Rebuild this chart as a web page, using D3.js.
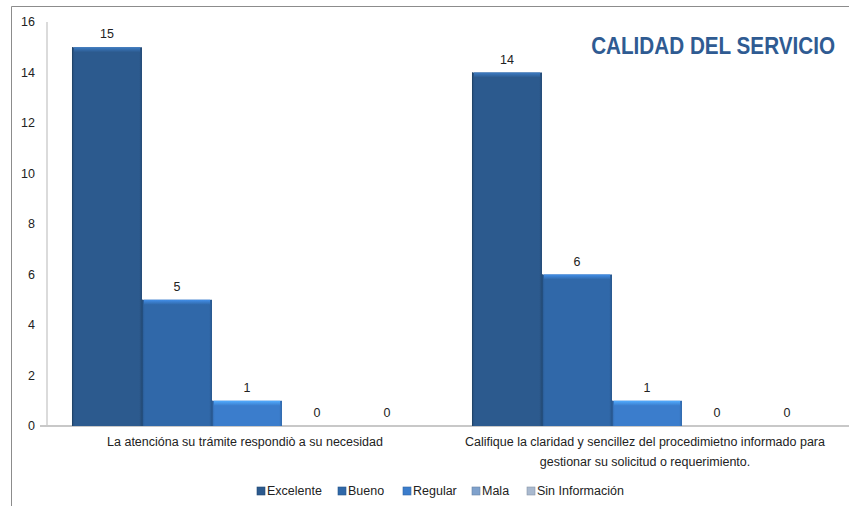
<!DOCTYPE html>
<html>
<head>
<meta charset="utf-8">
<script src="https://cdn.jsdelivr.net/npm/d3@7"></script>
<style>
  body { margin: 0; background: #fff; }
  svg { display: block; font-family: "Liberation Sans", Arial, sans-serif; }
</style>
</head>
<body>
<svg id="chart" width="849" height="506"></svg>
<script>
// chart data
const categories = [
    'La atencióna su trámite respondiò a su necesidad',
    'Califique la claridad y sencillez del procedimietno informado para|gestionar su solicitud o requerimiento.'
];
const seriesNames = ['Excelente', 'Bueno', 'Regular', 'Mala', 'Sin Información'];
const excelente = [15, 14];
const bueno = [5, 6];
const regular = [1, 1];
const mala = [0, 0];
const sinInformacion = [0, 0];
const yTicks = [0, 2, 4, 6, 8, 10, 12, 14, 16];

const seriesValues = [excelente, bueno, regular, mala, sinInformacion];
const colors = ['#2c5a8e', '#3068a9', '#3b7dcc', '#7fa1cc', '#a9b9cf'];

const svg = d3.select('#chart');

// outer frame (left + top only visible)
svg.append('path')
    .attr('d', 'M11.5,506 L11.5,6.5 L849,6.5')
    .attr('fill', 'none')
    .attr('stroke', '#8c8c8c');

const x0 = d3.scaleBand()
    .domain(categories)
    .range([47, 847])
    .padding(0);

const x1 = d3.scaleBand()
    .domain(seriesNames)
    .range([0, x0.bandwidth()])
    .paddingInner(0)
    .paddingOuter(0.357);

const y = d3.scaleLinear()
    .domain([0, 16])
    .range([426, 22]);

// gradients for bevelled bars
const defs = svg.append('defs');
colors.forEach((c, i) => {
    const g = defs.append('linearGradient')
        .attr('id', 'grad' + i)
        .attr('x1', 0).attr('x2', 1).attr('y1', 0).attr('y2', 0);
    const dark = d3.color(c).darker(0.5);
    g.append('stop').attr('offset', '0%').attr('stop-color', dark);
    g.append('stop').attr('offset', '4%').attr('stop-color', c);
    g.append('stop').attr('offset', '96%').attr('stop-color', c);
    g.append('stop').attr('offset', '100%').attr('stop-color', dark);

    const t = defs.append('linearGradient')
        .attr('id', 'top' + i)
        .attr('x1', 0).attr('x2', 0).attr('y1', 0).attr('y2', 1);
    t.append('stop').attr('offset', '0%').attr('stop-color', d3.color(c).brighter(0.9));
    t.append('stop').attr('offset', '100%').attr('stop-color', c);
});

// axes lines
svg.append('line')
    .attr('x1', 47).attr('x2', 47)
    .attr('y1', y(16)).attr('y2', y(0))
    .attr('stroke', '#cfcfcf').attr('stroke-width', 1.5);

svg.append('line')
    .attr('x1', 40).attr('x2', 849)
    .attr('y1', y(0)).attr('y2', y(0))
    .attr('stroke', '#c8c8c8').attr('stroke-width', 2);

// y tick labels
svg.selectAll('.ytick')
    .data(yTicks)
    .enter()
    .append('text')
    .attr('class', 'ytick')
    .attr('x', 35)
    .attr('y', d => y(d))
    .attr('dy', '0.35em')
    .attr('text-anchor', 'end')
    .attr('font-size', 12.5)
    .attr('fill', '#222')
    .text(d => d);

// bars
const groups = svg.selectAll('.group')
    .data(categories)
    .enter()
    .append('g')
    .attr('class', 'group')
    .attr('transform', d => `translate(${x0(d)},0)`);

groups.each(function (cat, ci) {
    const g = d3.select(this);
    seriesNames.forEach((s, si) => {
        const v = seriesValues[si][ci];
        const bx = x1(s);
        const bw = x1.bandwidth();
        if (v > 0) {
            g.append('rect')
                .attr('x', bx)
                .attr('y', y(v))
                .attr('width', bw)
                .attr('height', y(0) - y(v))
                .attr('fill', `url(#grad${si})`);
            // light top bevel
            g.append('rect')
                .attr('x', bx + 2)
                .attr('y', y(v))
                .attr('width', bw - 4)
                .attr('height', 5)
                .attr('fill', `url(#top${si})`);
            // dark separator on left edge
            g.append('line')
                .attr('x1', bx + 0.5).attr('x2', bx + 0.5)
                .attr('y1', y(v)).attr('y2', y(0))
                .attr('stroke', d3.color(colors[si]).darker(0.8))
                .attr('stroke-width', 1);
        }
        g.append('text')
            .attr('x', bx + bw / 2)
            .attr('y', y(v) - 9)
            .attr('text-anchor', 'middle')
            .attr('font-size', 12.5)
            .attr('fill', '#222')
            .text(v);
    });
});

// category labels
groups.each(function (cat) {
    const lines = cat.split('|');
    const t = d3.select(this).append('text')
        .attr('text-anchor', 'middle')
        .attr('font-size', 12.5)
        .attr('fill', '#222');
    lines.forEach((l, i) => {
        t.append('tspan')
            .attr('x', x0.bandwidth() / 2 - 2)
            .attr('y', 446 + i * 20)
            .text(l);
    });
});

// title: condensed bold, squeezed horizontally to match the narrow face
const title = svg.append('text')
    .attr('x', 0)
    .attr('y', 0)
    .attr('text-anchor', 'end')
    .attr('font-weight', 'bold')
    .attr('font-size', 23)
    .attr('fill', '#2f5b92')
    .text('CALIDAD DEL SERVICIO');
const natural = title.node().getComputedTextLength();
title.attr('transform', `translate(835,54) scale(${244 / natural},1)`);

// legend
const legendX = [257, 338, 403, 472, 527];
const legend = svg.selectAll('.legend')
    .data(seriesNames)
    .enter()
    .append('g')
    .attr('class', 'legend')
    .attr('transform', (d, i) => `translate(${legendX[i]},487)`);

legend.append('rect')
    .attr('width', 8)
    .attr('height', 8)
    .attr('fill', (d, i) => colors[i])
    .attr('stroke', (d, i) => d3.color(colors[i]).darker(0.6))
    .attr('stroke-width', 0.6);

legend.append('text')
    .attr('x', 10)
    .attr('y', 4)
    .attr('dy', '0.35em')
    .attr('font-size', 12.5)
    .attr('fill', '#222')
    .text(d => d);
</script>
</body>
</html>
